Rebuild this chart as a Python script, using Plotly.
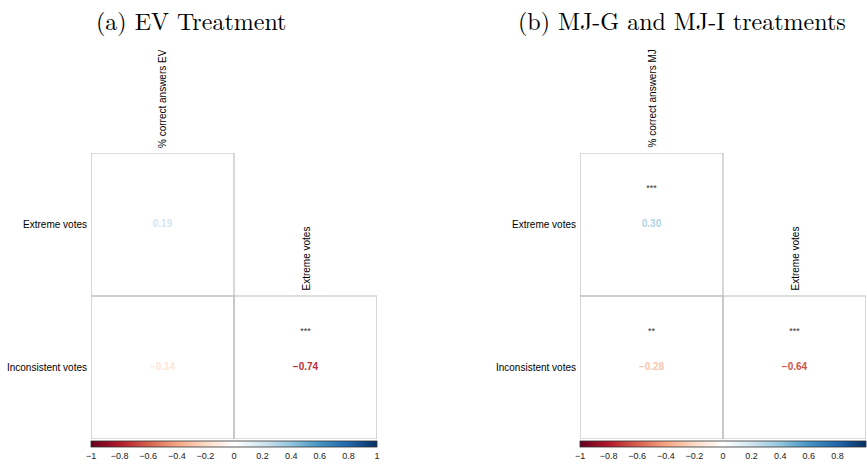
import plotly.graph_objects as go
from plotly.colors import sample_colorscale

# ---------------- data ----------------
row_labels = ["Inconsistent votes", "Extreme votes"]          # y index 0, 1
cols_a = ["% correct answers EV", "Extreme votes"]
cols_b = ["% correct answers MJ", "Extreme votes"]
# lower-triangle pairs: (row label, column index)
pair_rows = ["Extreme votes", "Inconsistent votes", "Inconsistent votes"]
pair_cols = [0, 0, 1]
corr_a = [0.19, -0.14, -0.74]
stars_a = ["", "", "***"]
corr_b = [0.30, -0.28, -0.64]
stars_b = ["***", "**", "***"]
titles = ["(a) EV Treatment", "(b) MJ-G and MJ-I treatments"]
cbar_ticks = [-1, -0.8, -0.6, -0.4, -0.2, 0, 0.2, 0.4, 0.6, 0.8, 1]

# RdBu (corrplot COL2 style, white centre)
rdbu = ["#67001F", "#B2182B", "#D6604D", "#F4A582", "#FDDBC7", "#FFFFFF",
        "#D1E5F0", "#92C5DE", "#4393C3", "#2166AC", "#053061"]
cscale = [[i / 10, c] for i, c in enumerate(rdbu)]

W, H = 867, 466
panels = [
    dict(cols=cols_a, corr=corr_a, stars=stars_a, x0=91, x1=377, tx=191),
    dict(cols=cols_b, corr=corr_b, stars=stars_b, x0=580, x1=866, tx=682),
]
top_px, bot_px = 153, 439

fig = go.Figure()
shapes = []
annotations = []
LABEL_FONT = dict(family="Liberation Sans, Arial, sans-serif", size=10, color="black")

for k, p in enumerate(panels):
    ax = "" if k == 0 else str(k + 1)
    xref, yref = "x" + ax, "y" + ax
    ys = [row_labels.index(r) for r in pair_rows]
    xs = pair_cols
    vals = p["corr"]
    cols = sample_colorscale(cscale, [(v + 1) / 2 for v in vals])
    # correlation values
    fig.add_trace(go.Scatter(
        x=xs, y=ys, mode="text",
        text=[f"{v:.2f}".replace("-", "\u2212") for v in vals],
        textfont=dict(family="Liberation Sans, Arial, sans-serif", size=10, color=cols,
                      weight="bold"),
        xaxis=xref, yaxis=yref, showlegend=False, hoverinfo="skip"))
    # significance stars
    fig.add_trace(go.Scatter(
        x=xs, y=[y + 0.25 for y in ys], mode="text", text=p["stars"],
        textfont=dict(family="Liberation Sans, Arial, sans-serif", size=9, color="#333333"),
        xaxis=xref, yaxis=yref, showlegend=False, hoverinfo="skip"))
    # colorbar
    cb = dict(orientation="h", x=(p["x0"] + p["x1"]) / 2 / W,
              xanchor="center", y=1 - 441 / H, yanchor="top",
              len=(p["x1"] - p["x0"]) / W, lenmode="fraction",
              thickness=6, xpad=0, ypad=0,
              outlinewidth=0.8, outlinecolor="#333333",
              tickvals=cbar_ticks, ticks="",
              tickfont=dict(family="Liberation Sans, Arial, sans-serif",
                            size=9, color="#222222"))
    fig.add_trace(go.Scatter(
        x=[None], y=[None], mode="markers", xaxis=xref, yaxis=yref, showlegend=False,
        marker=dict(color=[0], colorscale=cscale, cmin=-1, cmax=1, showscale=True,
                    colorbar=cb)))
    # cell borders
    for xi, yi in zip(xs, ys):
        shapes.append(dict(type="rect", xref=xref, yref=yref,
                           x0=xi - 0.5, x1=xi + 0.5, y0=yi - 0.5, y1=yi + 0.5,
                           line=dict(color="#BEBEBE", width=1.2), layer="above"))
    # column labels at diagonal
    for ci, lab in enumerate(p["cols"]):
        yi = len(row_labels) - 1 - ci
        annotations.append(dict(x=ci, y=yi + 0.5, xref=xref, yref=yref, text=lab,
                                textangle=-90, showarrow=False, xanchor="center",
                                yanchor="bottom", yshift=3, font=LABEL_FONT))
    # title
    annotations.append(dict(x=p["tx"] / W, y=1 - 20 / H, xref="paper", yref="paper",
                            text=titles[k], showarrow=False, xanchor="center",
                            yanchor="middle",
                            font=dict(family="Latin Modern Roman, CMU Serif, Liberation Serif, serif",
                                      size=24, color="black")))
    dom_x = [p["x0"] / W, p["x1"] / W]
    dom_y = [1 - bot_px / H, 1 - top_px / H]
    fig.layout["xaxis" + ax] = dict(domain=dom_x, range=[-0.5, 1.5], showgrid=False,
                                    zeroline=False, showticklabels=False, fixedrange=True,
                                    anchor=yref, automargin=False)
    fig.layout["yaxis" + ax] = dict(domain=dom_y, range=[-0.5, 1.5], showgrid=False,
                                    zeroline=False, tickvals=[0, 1], ticktext=row_labels,
                                    ticks="", tickfont=LABEL_FONT, fixedrange=True,
                                    ticklabelstandoff=3, anchor=xref, automargin=False)

fig.update_layout(width=W, height=H,
                  margin=dict(l=0, r=0, t=0, b=0, autoexpand=False),
                  paper_bgcolor="white", plot_bgcolor="white",
                  shapes=shapes, annotations=annotations)
fig.write_html("out.html", config=dict(displayModeBar=False),
               post_script="document.body.style.margin='0';document.body.style.overflow='hidden';")
